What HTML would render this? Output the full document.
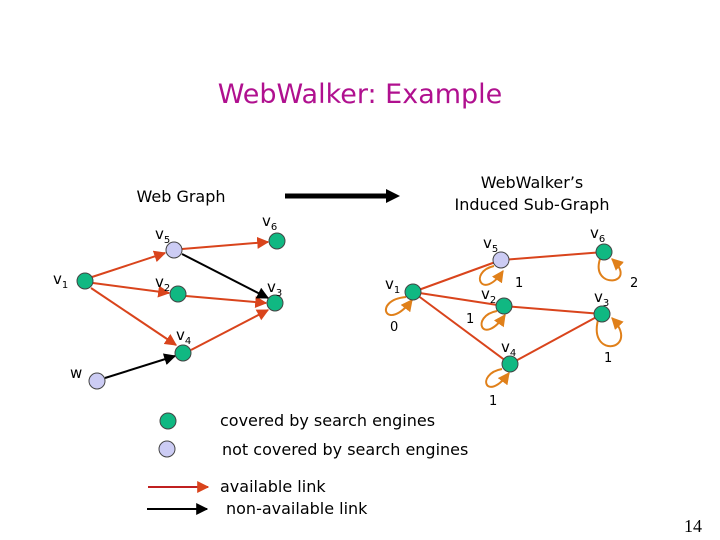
<!DOCTYPE html>
<html><head><meta charset="utf-8"><style>
html,body{margin:0;padding:0;background:#fff;}
svg{display:block;font-family:"DejaVu Sans","Liberation Sans",sans-serif;}
.lb{font-size:15px;fill:#000;}
.sb{font-size:10px;}
.n{font-size:13px;fill:#000;}
</style></head><body>
<svg width="720" height="540" viewBox="0 0 720 540" xmlns="http://www.w3.org/2000/svg">
<defs>
<marker id="ar" viewBox="0 0 10 10" refX="9" refY="5" markerWidth="6" markerHeight="6" orient="auto"><path d="M0,0L10,5L0,10z" fill="#d9441c"/></marker>
<marker id="ab" viewBox="0 0 10 10" refX="9" refY="5" markerWidth="6" markerHeight="6" orient="auto"><path d="M0,0L10,5L0,10z" fill="#000"/></marker>
<marker id="ao" viewBox="0 0 10 10" refX="9" refY="5" markerWidth="6" markerHeight="6" orient="auto"><path d="M0,0L10,5L0,10z" fill="#e0801a"/></marker>
</defs>
<text x="360" y="103" text-anchor="middle" font-size="27" fill="#b0108f">WebWalker: Example</text>
<text x="181" y="202" text-anchor="middle" font-size="16">Web Graph</text>
<text x="532" y="188" text-anchor="middle" font-size="16">WebWalker’s</text>
<text x="532" y="210" text-anchor="middle" font-size="16">Induced Sub-Graph</text>
<line x1="285" y1="196" x2="390" y2="196" stroke="#000" stroke-width="5"/>
<path d="M386,189L400,196L386,203z" fill="#000"/>

<!-- left graph edges -->
<g stroke="#d9441c" stroke-width="2" fill="none">
<line x1="92" y1="277" x2="165" y2="253" marker-end="url(#ar)"/>
<line x1="93" y1="283" x2="169" y2="293" marker-end="url(#ar)"/>
<line x1="91" y1="288" x2="176" y2="345" marker-end="url(#ar)"/>
<line x1="182" y1="249" x2="268" y2="242" marker-end="url(#ar)"/>
<line x1="186" y1="296" x2="266" y2="303" marker-end="url(#ar)"/>
<line x1="191" y1="350" x2="268" y2="310" marker-end="url(#ar)"/>
</g>
<line x1="182" y1="254" x2="268" y2="298" stroke="#000" stroke-width="2" marker-end="url(#ab)"/>
<line x1="105" y1="378" x2="175" y2="356" stroke="#000" stroke-width="2" marker-end="url(#ab)"/>
<g stroke="#444" stroke-width="1">
<circle cx="85" cy="281" r="8" fill="#10b882"/>
<circle cx="174" cy="250" r="8" fill="#ccccf4"/>
<circle cx="178" cy="294" r="8" fill="#10b882"/>
<circle cx="277" cy="241" r="8" fill="#10b882"/>
<circle cx="275" cy="303" r="8" fill="#10b882"/>
<circle cx="183" cy="353" r="8" fill="#10b882"/>
<circle cx="97" cy="381" r="8" fill="#ccccf4"/>
</g>
<text class="lb" x="155" y="239">v<tspan class="sb" dy="4">5</tspan></text>
<text class="lb" x="262" y="226">v<tspan class="sb" dy="4">6</tspan></text>
<text class="lb" x="53" y="284">v<tspan class="sb" dy="4">1</tspan></text>
<text class="lb" x="155" y="287">v<tspan class="sb" dy="4">2</tspan></text>
<text class="lb" x="267" y="292">v<tspan class="sb" dy="4">3</tspan></text>
<text class="lb" x="176" y="340">v<tspan class="sb" dy="4">4</tspan></text>
<text class="lb" x="70" y="378">w</text>

<!-- right graph -->
<g stroke="#d9441c" stroke-width="2" fill="none">
<line x1="413" y1="292" x2="501" y2="260"/>
<line x1="501" y1="260" x2="604" y2="252"/>
<line x1="413" y1="292" x2="504" y2="306"/>
<line x1="504" y1="306" x2="602" y2="314"/>
<line x1="413" y1="292" x2="510" y2="364"/>
<line x1="510" y1="364" x2="602" y2="314"/>
</g>
<g stroke="#e0801a" stroke-width="2" fill="none">
<path d="M494,266 C468,272 482,302 503,271" marker-end="url(#ao)"/>
<path d="M600,259 C590,290 640,285 612,259" marker-end="url(#ao)"/>
<path d="M598,320 C588,360 642,350 612,318" marker-end="url(#ao)"/>
<path d="M406,297 C372,300 386,334 412,300" marker-end="url(#ao)"/>
<path d="M497,311 C470,316 482,348 505,315" marker-end="url(#ao)"/>
<path d="M502,369 C475,374 486,404 509,373" marker-end="url(#ao)"/>
</g>
<g stroke="#444" stroke-width="1">
<circle cx="413" cy="292" r="8" fill="#10b882"/>
<circle cx="501" cy="260" r="8" fill="#ccccf4"/>
<circle cx="604" cy="252" r="8" fill="#10b882"/>
<circle cx="504" cy="306" r="8" fill="#10b882"/>
<circle cx="602" cy="314" r="8" fill="#10b882"/>
<circle cx="510" cy="364" r="8" fill="#10b882"/>
</g>
<text class="lb" x="483" y="248">v<tspan class="sb" dy="4">5</tspan></text>
<text class="lb" x="590" y="238">v<tspan class="sb" dy="4">6</tspan></text>
<text class="lb" x="385" y="289">v<tspan class="sb" dy="4">1</tspan></text>
<text class="lb" x="481" y="299">v<tspan class="sb" dy="4">2</tspan></text>
<text class="lb" x="594" y="302">v<tspan class="sb" dy="4">3</tspan></text>
<text class="lb" x="501" y="352">v<tspan class="sb" dy="4">4</tspan></text>
<text class="n" x="515" y="287">1</text>
<text class="n" x="630" y="287">2</text>
<text class="n" x="390" y="331">0</text>
<text class="n" x="466" y="323">1</text>
<text class="n" x="604" y="362">1</text>
<text class="n" x="489" y="405">1</text>

<!-- legend -->
<circle cx="168" cy="421" r="8" fill="#10b882" stroke="#444"/>
<circle cx="167" cy="449" r="8" fill="#ccccf4" stroke="#444"/>
<text x="220" y="426" font-size="16">covered by search engines</text>
<text x="222" y="455" font-size="16">not covered by search engines</text>
<line x1="148" y1="487" x2="208" y2="487" stroke="#c02020" stroke-width="2" marker-end="url(#ar)"/>
<line x1="147" y1="509" x2="207" y2="509" stroke="#000" stroke-width="2" marker-end="url(#ab)"/>
<text x="220" y="492" font-size="16">available link</text>
<text x="226" y="514" font-size="16">non-available link</text>
<text x="702" y="532" text-anchor="end" font-size="18" font-family="Liberation Serif,serif">14</text>
</svg>
</body></html>
